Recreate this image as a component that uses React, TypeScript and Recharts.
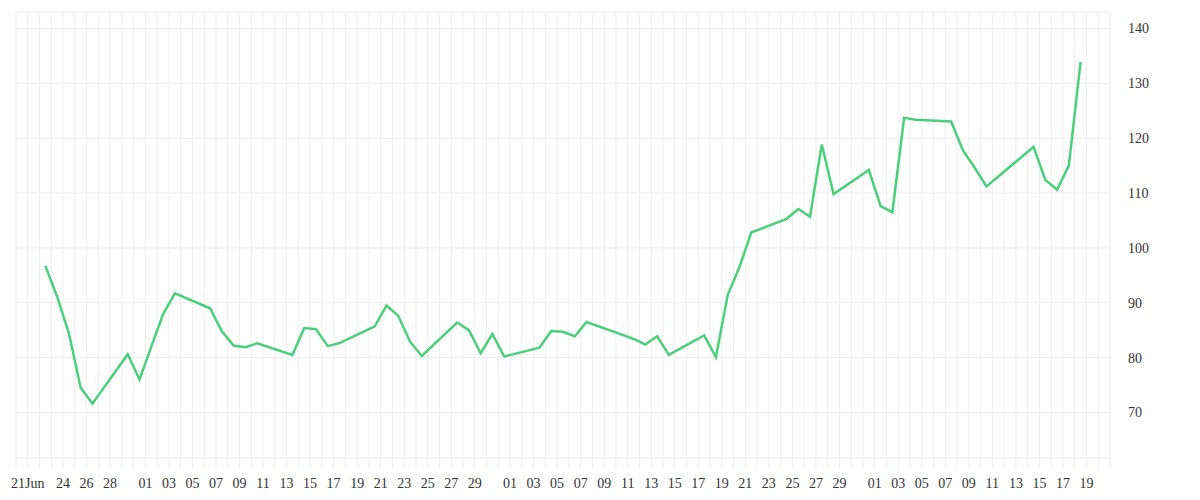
import { LineChart, Line, XAxis, YAxis, CartesianGrid } from "recharts";

// trading days, 2020
const dates = [
  "2020-06-22", "2020-06-23", "2020-06-24", "2020-06-25", "2020-06-26",
  "2020-06-29", "2020-06-30", "2020-07-01", "2020-07-02", "2020-07-03",
  "2020-07-06", "2020-07-07", "2020-07-08", "2020-07-09", "2020-07-10",
  "2020-07-13", "2020-07-14", "2020-07-15", "2020-07-16", "2020-07-17",
  "2020-07-20", "2020-07-21", "2020-07-22", "2020-07-23", "2020-07-24",
  "2020-07-27", "2020-07-28", "2020-07-29", "2020-07-30", "2020-07-31",
  "2020-08-03", "2020-08-04", "2020-08-05", "2020-08-06", "2020-08-07",
  "2020-08-10", "2020-08-11", "2020-08-12", "2020-08-13", "2020-08-14",
  "2020-08-17", "2020-08-18", "2020-08-19", "2020-08-20", "2020-08-21",
  "2020-08-24", "2020-08-25", "2020-08-26", "2020-08-27", "2020-08-28",
  "2020-08-31", "2020-09-01", "2020-09-02", "2020-09-03", "2020-09-04",
  "2020-09-07", "2020-09-08", "2020-09-09", "2020-09-10", "2020-09-11",
  "2020-09-14", "2020-09-15", "2020-09-16", "2020-09-17", "2020-09-18",
];

const values = [
  96.7, 91.1, 84.4, 74.5, 71.6,
  80.6, 76.0, 82.0, 87.9, 91.7,
  89.0, 84.8, 82.2, 81.9, 82.6,
  80.5, 85.4, 85.2, 82.1, 82.65,
  85.7, 89.5, 87.6, 82.9, 80.3,
  86.4, 85.0, 80.8, 84.3, 80.2,
  81.8, 84.85, 84.7, 83.9, 86.5,
  84.2, 83.4, 82.4, 83.9, 80.5,
  84.05, 80.1, 91.4, 96.5, 102.8,
  105.3, 107.1, 105.7, 118.85, 109.8,
  114.2, 107.6, 106.5, 123.7, 123.35,
  123.05, 117.75, 114.6, 111.2, 113.0,
  118.4, 112.4, 110.6, 115.0, 133.9,
];

// labelled days of each month on the x axis
const junLabelDays = [21, 24, 26, 28];
const julLabelDays = [1, 3, 5, 7, 9, 11, 13, 15, 17, 19, 21, 23, 25, 27, 29];
const augLabelDays = [1, 3, 5, 7, 9, 11, 13, 15, 17, 19, 21, 23, 25, 27, 29];
const sepLabelDays = [1, 3, 5, 7, 9, 11, 13, 15, 17, 19];

const yTicks = [70, 80, 90, 100, 110, 120, 130, 140];

const START = Date.UTC(2020, 5, 20);
const END = Date.UTC(2020, 8, 21);
const DAY = 86400000;

const toDay = (iso: string) => {
  const [y, m, d] = iso.split("-").map(Number);
  return (Date.UTC(y, m - 1, d) - START) / DAY;
};

const data = dates.map((d, i) => ({ x: toDay(d) + 0.5, value: values[i] }));

const dayTicks: number[] = [];
for (let i = 0; i <= (END - START) / DAY; i++) dayTicks.push(i);

const labelsByMonth: Record<number, number[]> = {
  5: junLabelDays,
  6: julLabelDays,
  7: augLabelDays,
  8: sepLabelDays,
};

const formatTick = (v: number) => {
  const dt = new Date(START + v * DAY);
  const m = dt.getUTCMonth();
  const d = dt.getUTCDate();
  if (!(labelsByMonth[m] || []).includes(d)) return "";
  if (m === 5 && d === 21) return "21Jun";
  return String(d).padStart(2, "0");
};

const tickStyle = { fill: "#333", fontSize: 14, fontFamily: "Liberation Serif" };

export default function App() {
  return (
    <LineChart
      width={1184}
      height={484}
      data={data}
      margin={{ top: 4, right: 0, bottom: 0, left: 8 }}
    >
      <CartesianGrid stroke="#eeeeee" />
      <XAxis
        dataKey="x"
        type="number"
        domain={[0, dayTicks.length - 1]}
        ticks={dayTicks}
        interval={0}
        tickFormatter={formatTick}
        height={34}
        tickSize={10}
        tickMargin={10}
        axisLine={{ stroke: "#eeeeee" }}
        tickLine={{ stroke: "#eeeeee" }}
        tick={tickStyle}
      />
      <YAxis
        orientation="right"
        type="number"
        domain={[61.7, 143]}
        ticks={yTicks}
        width={82}
        axisLine={false}
        tickLine={false}
        tickSize={6}
        tickMargin={12}
        tick={tickStyle}
      />
      <Line
        type="linear"
        dataKey="value"
        stroke="#4ad07a"
        strokeWidth={2.5}
        dot={false}
        isAnimationActive={false}
      />
    </LineChart>
  );
}
